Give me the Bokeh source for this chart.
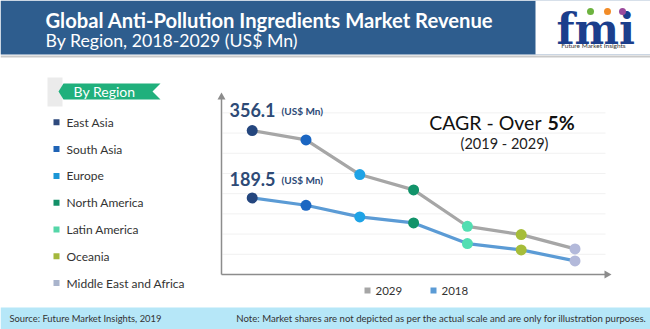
from bokeh.plotting import figure
from bokeh.models import Range1d
from bokeh.core.properties import value
from bokeh.embed import file_html
from bokeh.resources import INLINE

# ---------------- data ----------------
regions = ["East Asia", "South Asia", "Europe", "North America",
           "Latin America", "Oceania", "Middle East and Africa"]
region_colors = ["#24467e", "#1a66c2", "#1ea3e6", "#12936a",
                 "#52deb2", "#a6bd3a", "#b3b9da"]
legend_square_colors = ["#2e4a7d", "#1f63b5", "#1b96d6", "#139068",
                        "#55d6a8", "#a4b83c", "#a9b4cc"]
rev_2029 = [356.1, 333.1, 247.3, 209.4, 119.3, 98.8, 63.4]
rev_2018 = [189.5, 171.3, 142.6, 127.7, 76.5, 60.9, 33.7]
series_names = ["2029", "2018"]
series_colors = ["#a6a6a6", "#5b9bd5"]
grid_values = [50, 100, 150, 200, 250, 300, 350, 400]

title_line1 = "Global Anti-Pollution Ingredients Market Revenue"
title_line2 = "By Region, 2018-2029 (US$ Mn)"
unit_label = "(US$ Mn)"
cagr_main = "CAGR - Over "
cagr_bold = "5%"
cagr_period = "(2019 - 2029)"
legend_title = "By Region"
source_text = "Source: Future Market Insights, 2019"
note_text = ("Note: Market shares are not depicted as per the actual scale "
             "and are only for illustration purposes.")
logo_text = "fmi"
logo_sub = "Future Market Insights"

FONT = "Lato"
W, H = 650, 329

p = figure(width=W, height=H, x_range=Range1d(0, W), y_range=Range1d(H, 0),
           output_backend="svg", toolbar_location=None, min_border=0,
           x_axis_location=None, y_axis_location=None)
p.xgrid.visible = False
p.ygrid.visible = False
p.outline_line_color = None
p.background_fill_color = "white"
p.border_fill_color = "white"

# data ranges mapped onto the pixel frame
X0, DX = 251.7, 53.8      # pixel of first category, spacing
Y0, K = 274.0, 2.475      # pixel of zero, units per pixel
p.extra_x_ranges = {"cat": Range1d(-X0 / DX, (W - X0) / DX)}
p.extra_y_ranges = {"val": Range1d((Y0 - H) * K, Y0 * K)}


def txt(x, y, s, size, color="#333333", bold=False, align="left", font=FONT):
    p.text(x=x if isinstance(x, list) else [x],
           y=y if isinstance(y, list) else [y],
           text=s if isinstance(s, list) else [s],
           text_color=color, text_font=value(font),
           text_font_style="bold" if bold else "normal",
           text_font_size=f"{size}px", text_align=align,
           text_baseline="middle")


# ---------------- header ----------------
p.quad(left=0, right=W, top=0, bottom=54, fill_color="#2e5d8e", line_color=None)
p.quad(left=535, right=W, top=0, bottom=54, fill_color="white", line_color=None)
p.segment(x0=0, x1=W, y0=56, y1=56, line_color="#c9c9c9", line_width=2)
txt(45, 19, title_line1, 20.2, color="white", bold=True)
txt(45, 39.5, title_line2, 17.7, color="white")
# logo
txt(556, 29, logo_text, 42, color="#1b3e8c", bold=True, font="DejaVu Serif")
p.scatter(x=[590, 607, 622], y=[11, 11, 11], size=7,
          fill_color=["#6db33f", "#f28c28", "#9b4a9c"], line_color=None)
txt(593, 45, logo_sub, 6.5, align="center")

# ---------------- left legend ----------------
p.quad(left=47, right=62, top=77, bottom=106, fill_color="#ebebeb", line_color=None)
p.patch(x=[58, 63, 160, 152, 160, 63], y=[91, 83, 83, 91, 99, 99],
        fill_color="#20b07c", line_color=None)
txt(104, 91, legend_title, 14, color="white", align="center")
leg_y = [121.8 + i * 26.8 for i in range(len(regions))]
p.scatter(x=[56] * len(regions), y=leg_y, marker="square", size=6,
          fill_color=legend_square_colors, line_color=None)
txt([66] * len(regions), leg_y, regions, 12)

# ---------------- chart ----------------
idx = list(range(len(regions)))
p.segment(x0=[222] * len(grid_values), x1=[605] * len(grid_values),
          y0=grid_values, y1=grid_values, y_range_name="val",
          line_color="#f1f1f1", line_width=1)
# axes
p.segment(x0=[221, 221], y0=[274, 274], x1=[221, 605], y1=[98, 274],
          line_color="#8c8c8c", line_width=1.5)
p.patch(x=[217, 225, 221], y=[99, 99, 92], fill_color="#8c8c8c", line_color=None)
p.patch(x=[604, 604, 611], y=[270, 278, 274], fill_color="#8c8c8c", line_color=None)

for vals, col in zip([rev_2029, rev_2018], series_colors):
    p.line(x=idx, y=vals, x_range_name="cat", y_range_name="val",
           line_color=col, line_width=3.2)
for vals in [rev_2029, rev_2018]:
    p.scatter(x=idx, y=vals, x_range_name="cat", y_range_name="val",
              size=11, fill_color=region_colors, line_color=None)

# value labels
for val, yc in zip([rev_2029[0], rev_2018[0]], [109.5, 178.5]):
    txt(229, yc, f"{val:.1f}", 18, color="#2d4a76", bold=True)
    txt(281, yc + 0.5, unit_label, 10, color="#2d4a76", bold=True)

# CAGR
txt(546, 122, cagr_main, 19.5, color="#111111", align="right")
txt(547, 122, cagr_bold, 19.5, color="#111111", bold=True)
txt(504, 143, cagr_period, 14.5, color="#222222", align="center")

# bottom legend
p.scatter(x=[367, 433], y=[290, 290], marker="square", size=6,
          fill_color=series_colors, line_color=None)
txt([375, 441], [290, 290], series_names, 11.5)

# ---------------- footer ----------------
p.quad(left=0, right=W, top=307, bottom=H, fill_color="#b6e7f8", line_color=None)
txt(9, 318, source_text, 9.4)
txt(646, 318, note_text, 9.6, align="right")

open("out.html", "w").write(file_html(p, INLINE))
